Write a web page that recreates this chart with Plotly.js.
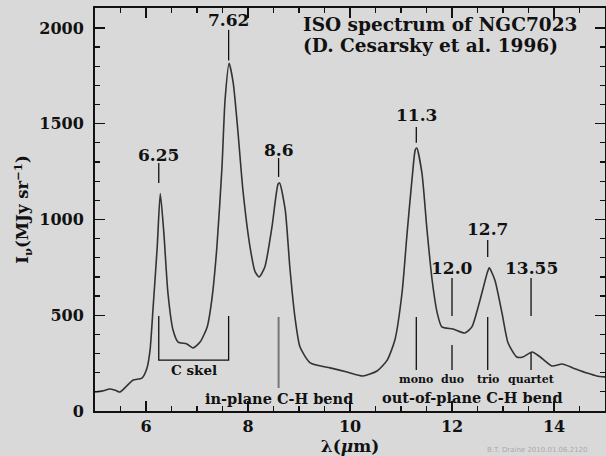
<!DOCTYPE html>
<html><head><meta charset="utf-8">
<script src="https://cdn.plot.ly/plotly-3.0.1.min.js"></script>
<style>html,body{margin:0;padding:0;background:#d9d9d9;}</style>
</head><body><div id="chart" style="width:606px;height:456px;"></div>
<script>
// ---- data ----
const wavelength = [5.00,5.15,5.29,5.40,5.49,5.62,5.75,5.92,6.02,6.08,6.14,6.22,6.28,6.35,6.43,6.53,6.63,6.80,6.92,7.06,7.20,7.29,7.39,7.49,7.55,7.63,7.71,7.80,7.90,8.04,8.14,8.22,8.33,8.47,8.59,8.62,8.73,8.82,8.92,9.02,9.22,9.61,9.94,10.25,10.53,10.73,10.88,11.02,11.12,11.22,11.28,11.31,11.41,11.51,11.61,11.71,11.80,12.02,12.25,12.39,12.55,12.69,12.73,12.84,12.98,13.10,13.27,13.39,13.57,13.73,13.96,14.16,14.37,14.65,14.84,15.00];
const intensity = [99,105,115,108,99,130,162,172,225,319,543,856,1135,930,616,423,360,350,329,360,439,580,856,1274,1624,1815,1713,1467,1154,856,726,700,752,961,1185,1190,1050,752,491,334,251,225,204,183,209,266,371,616,930,1222,1363,1373,1243,945,684,512,439,428,407,439,580,720,747,684,512,355,282,282,308,282,235,245,225,198,183,178];
const peakLabels = ['6.25','7.62','8.6','11.3','12.0','12.7','13.55'];
const peakWavelengths = [6.25,7.62,8.6,11.3,12.0,12.7,13.55];
const modeLabels = ['mono','duo','trio','quartet'];
const modeWavelengths = [11.3,12.0,12.7,13.55];
const bandLabels = ['C skel','in-plane C-H bend','out-of-plane C-H bend'];
const xTickValues = [6,8,10,12,14];
const yTickValues = [0,500,1000,1500,2000];
const titleLines = ['ISO spectrum of NGC7023','(D. Cesarsky et al. 1996)'];
const creditText = 'B.T. Draine 2010.01.06.2120';

// ---- layout helpers (positions in data units) ----
const peakTick = [[1190,1295],[1830,1990],[1222,1321],[1400,1483],[496,695],[804,893],[496,695]];
const peakLabelY = [1337,2042,1363,1546,747,950,747];
const modeLine = [[214,491],[214,345],[214,491],[214,303]];
const modeLabelY = 167;

const FONT = 'DejaVu Serif';
const INK = '#111';
const shapes = [];
const annotations = [];

peakWavelengths.forEach((w,i)=>{
  shapes.push({type:'line',xref:'x',yref:'y',x0:w,x1:w,y0:peakTick[i][0],y1:peakTick[i][1],line:{color:INK,width:1.3}});
  annotations.push({xref:'x',yref:'y',x:w,y:peakLabelY[i],text:'<b>'+peakLabels[i]+'</b>',showarrow:false,
    font:{family:FONT,size:17,color:INK},xanchor:'center',yanchor:'middle'});
});
modeWavelengths.forEach((w,i)=>{
  shapes.push({type:'line',xref:'x',yref:'y',x0:w,x1:w,y0:modeLine[i][0],y1:modeLine[i][1],line:{color:INK,width:1.3}});
  annotations.push({xref:'x',yref:'y',x:w,y:modeLabelY,text:'<b>'+modeLabels[i]+'</b>',showarrow:false,
    font:{family:FONT,size:11,color:INK},xanchor:'center',yanchor:'middle'});
});
// C skel bracket between the 6.25 and 7.62 features
const cA = peakWavelengths[0], cB = peakWavelengths[1];
shapes.push({type:'path',xref:'x',yref:'y',path:`M ${cA} 496 L ${cA} 266 L ${cB} 266 L ${cB} 496`,line:{color:INK,width:1.3}});
annotations.push({xref:'x',yref:'y',x:(cA+cB)/2,y:212,text:'<b>'+bandLabels[0]+'</b>',showarrow:false,
  font:{family:FONT,size:13.5,color:INK},xanchor:'center',yanchor:'middle'});
// in-plane line at 8.6
shapes.push({type:'line',xref:'x',yref:'y',x0:peakWavelengths[2],x1:peakWavelengths[2],y0:120,y1:491,line:{color:'#777',width:2}});
annotations.push({xref:'x',yref:'y',x:peakWavelengths[2],y:66,text:'<b>'+bandLabels[1]+'</b>',showarrow:false,
  font:{family:FONT,size:14.5,color:INK},xanchor:'center',yanchor:'middle'});
annotations.push({xref:'x',yref:'y',x:12.41,y:70,text:'<b>'+bandLabels[2]+'</b>',showarrow:false,
  font:{family:FONT,size:14.5,color:INK},xanchor:'center',yanchor:'middle'});
// title lines
annotations.push({xref:'paper',yref:'paper',x:0.404,y:0.958,text:'<b>'+titleLines[0]+'</b>',showarrow:false,
  font:{family:FONT,size:18.5,color:INK},xanchor:'left',yanchor:'middle'});
annotations.push({xref:'paper',yref:'paper',x:0.404,y:0.908,text:'<b>'+titleLines[1]+'</b>',showarrow:false,
  font:{family:FONT,size:18.5,color:INK},xanchor:'left',yanchor:'middle'});
annotations.push({xref:'paper',yref:'paper',x:0.765,y:-0.097,text:creditText,showarrow:false,
  font:{family:'DejaVu Sans',size:7,color:'#aaa'},xanchor:'left',yanchor:'middle'});

const axisCommon = {
  showline:true, linecolor:INK, linewidth:2, mirror:'allticks',
  ticks:'inside', ticklen:10, tickwidth:1.3, tickcolor:INK,
  showgrid:false, zeroline:false,
  tickfont:{family:FONT,size:16,color:INK,weight:'bold'},
};
const layout = {
  width:606, height:456,
  paper_bgcolor:'#d9d9d9', plot_bgcolor:'#d9d9d9',
  margin:{l:95,r:1,t:8,b:45},
  showlegend:false,
  xaxis:Object.assign({}, axisCommon, {
    range:[5,15], tickvals:xTickValues, ticktext:xTickValues.map(String),
    minor:{dtick:0.5, ticks:'inside', ticklen:5, tickwidth:1.2, tickcolor:INK},
    title:{text:'<b>λ(<i>μ</i>m)</b>', font:{family:FONT,size:17,color:INK}, standoff:2}
  }),
  yaxis:Object.assign({}, axisCommon, {
    range:[0,2104], tickvals:yTickValues, ticktext:yTickValues.map(String),
    ticklabelstandoff:6,
    minor:{dtick:100, ticks:'inside', ticklen:5, tickwidth:1.2, tickcolor:INK},
    title:{text:'<b>I<sub>ν</sub>(MJy sr<sup>−1</sup>)</b>', font:{family:FONT,size:16.5,color:INK}, standoff:6}
  }),
  shapes:shapes, annotations:annotations
};
const trace = {x:wavelength, y:intensity, type:'scatter', mode:'lines',
  line:{color:'#333', width:1.6, shape:'spline', smoothing:0.6}, hoverinfo:'skip'};
Plotly.newPlot('chart',[trace],layout,{displayModeBar:false, staticPlot:true});
</script>
</body></html>
